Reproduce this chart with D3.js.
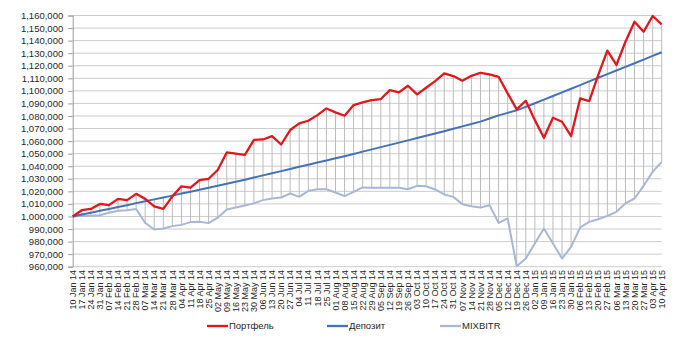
<!DOCTYPE html>
<html>
<head>
<meta charset="utf-8">
<script src="https://cdn.jsdelivr.net/npm/d3@7"></script>
<style>
  body { margin: 0; background: #fff; }
  text { font-family: "Liberation Sans", Arial, sans-serif; fill: #262626; }
</style>
</head>
<body>
<div id="chart"></div>
<script>
const dates = ["10 Jan 14","17 Jan 14","24 Jan 14","31 Jan 14","07 Feb 14","14 Feb 14","21 Feb 14","28 Feb 14",
  "07 Mar 14","14 Mar 14","21 Mar 14","28 Mar 14","04 Apr 14","11 Apr 14","18 Apr 14","25 Apr 14",
  "02 May 14","09 May 14","16 May 14","23 May 14","30 May 14","06 Jun 14","13 Jun 14","20 Jun 14","27 Jun 14",
  "04 Jul 14","11 Jul 14","18 Jul 14","25 Jul 14","01 Aug 14","08 Aug 14","15 Aug 14","22 Aug 14","29 Aug 14",
  "05 Sep 14","12 Sep 14","19 Sep 14","26 Sep 14","03 Oct 14","10 Oct 14","17 Oct 14","24 Oct 14","31 Oct 14",
  "07 Nov 14","14 Nov 14","21 Nov 14","28 Nov 14","05 Dec 14","12 Dec 14","19 Dec 14","26 Dec 14",
  "02 Jan 15","09 Jan 15","16 Jan 15","23 Jan 15","30 Jan 15","06 Feb 15","13 Feb 15","20 Feb 15","27 Feb 15",
  "06 Mar 15","13 Mar 15","20 Mar 15","27 Mar 15","03 Apr 15","10 Apr 15"];

const portfolio = [1000000,1005000,1006000,1010000,1009000,1014000,1013000,1018000,1014000,1008000,1006000,1016000,
  1024000,1023000,1029000,1030000,1037000,1051000,1050000,1049000,1061000,1061300,1064000,1057300,1068800,
  1074100,1076200,1080700,1086000,1082900,1080200,1088700,1090800,1092700,1093500,1100600,1098800,1104100,
  1097200,1102500,1107800,1113900,1111800,1108000,1112000,1114400,1113100,1111200,1098000,1085300,1092100,
  1076700,1062600,1078600,1075400,1064000,1094000,1091900,1112800,1132000,1120600,1139100,1155100,1147100,
  1159600,1153000];

const deposit = [1000000,1001500,1003000,1004500,1006000,1007500,1009000,1010600,1012100,1013600,1015100,1016600,
  1018200,1019700,1021200,1022800,1024400,1026000,1027700,1029300,1031000,1032700,1034400,1036100,1037800,
  1039500,1041200,1042900,1044600,1046300,1048000,1049800,1051600,1053400,1055200,1057000,1058800,1060600,
  1062400,1064200,1066000,1067900,1069800,1071700,1073600,1075500,1078000,1080500,1082500,1084500,1087300,
  1090100,1093000,1095900,1098800,1101700,1104600,1107500,1110400,1113300,1116200,1119100,1122000,1124900,
  1127800,1130700];

const mixbitr = [1000000,1000300,1000600,1001000,1002900,1004500,1005000,1006000,994900,989600,990400,992300,
  993300,995500,995700,994700,999000,1005600,1007200,1008800,1010400,1013000,1014300,1015100,1018300,
  1015600,1020400,1021700,1021700,1019100,1016200,1019600,1023100,1022800,1022800,1022800,1022800,1021700,
  1024400,1024000,1021500,1017500,1015600,1009800,1008200,1007200,1009000,994900,998400,960400,966500,
  978500,990400,978500,966500,975800,991200,995700,997800,1000500,1003700,1010400,1014300,1024400,
  1035500,1043500];

const seriesNames = ["Портфель", "Депозит", "MIXBITR"];
const seriesColors = ["#e3161b", "#4472b4", "#a7b7d5"];

const W = 685, H = 351;
const plot = { left: 72.7, right: 661.7, top: 15.5, bottom: 266.7 };

const svg = d3.select("#chart").append("svg")
  .attr("width", W)
  .attr("height", H);

const x = d3.scalePoint().domain(dates).range([plot.left, plot.right]);
const y = d3.scaleLinear().domain([960000, 1160000]).range([plot.bottom, plot.top]);

// horizontal gridlines
const yTicks = d3.range(960000, 1160001, 10000);
svg.append("g")
  .selectAll("line")
  .data(yTicks)
  .enter().append("line")
  .attr("x1", plot.left).attr("x2", plot.right)
  .attr("y1", d => y(d)).attr("y2", d => y(d))
  .attr("stroke", "#cccccc")
  .attr("stroke-width", 1);

// y axis
const yAxis = svg.append("g")
  .attr("transform", `translate(${plot.left},0)`)
  .call(d3.axisLeft(y).tickValues(yTicks).tickSize(4.5).tickPadding(5)
    .tickFormat(d3.format(",")));
yAxis.select(".domain").attr("stroke", "#9c9c9c");
yAxis.selectAll(".tick line").attr("stroke", "#9c9c9c");
yAxis.selectAll("text").style("font-size", "9.5px").style("fill", "#262626")
  .style("font-family", "'Liberation Sans', Arial, sans-serif");

// high-low lines
const rows = dates.map((d, i) => ({ date: d, vals: [portfolio[i], deposit[i], mixbitr[i]] }));
svg.append("g")
  .selectAll("line")
  .data(rows)
  .enter().append("line")
  .attr("x1", d => x(d.date)).attr("x2", d => x(d.date))
  .attr("y1", d => y(d3.max(d.vals)))
  .attr("y2", d => y(d3.min(d.vals)))
  .attr("stroke", "#bcbcbc")
  .attr("stroke-width", 1);

// x labels
svg.append("g")
  .selectAll("text")
  .data(dates)
  .enter().append("text")
  .attr("transform", d => `translate(${x(d)},270) rotate(-90)`)
  .attr("text-anchor", "end")
  .attr("dy", "0.35em")
  .style("font-size", "9px")
  .text(d => d);

// lines
const line = d3.line()
  .x((d, i) => x(dates[i]))
  .y(d => y(d));

const allSeries = [portfolio, deposit, mixbitr];
[2, 1, 0].forEach(k => {
  svg.append("path")
    .datum(allSeries[k])
    .attr("fill", "none")
    .attr("stroke", seriesColors[k])
    .attr("stroke-width", k === 0 ? 2.3 : 2)
    .attr("stroke-linejoin", "round")
    .attr("d", line);
});

// legend
const legendX = [207, 327, 440];
const legend = svg.append("g");
seriesNames.forEach((name, k) => {
  legend.append("line")
    .attr("x1", legendX[k]).attr("x2", legendX[k] + 21)
    .attr("y1", 326).attr("y2", 326)
    .attr("stroke", seriesColors[k])
    .attr("stroke-width", 2.3);
  legend.append("text")
    .attr("x", legendX[k] + 22)
    .attr("y", 326)
    .attr("dy", "0.35em")
    .style("font-size", "9.5px")
    .text(name);
});
</script>
</body>
</html>
